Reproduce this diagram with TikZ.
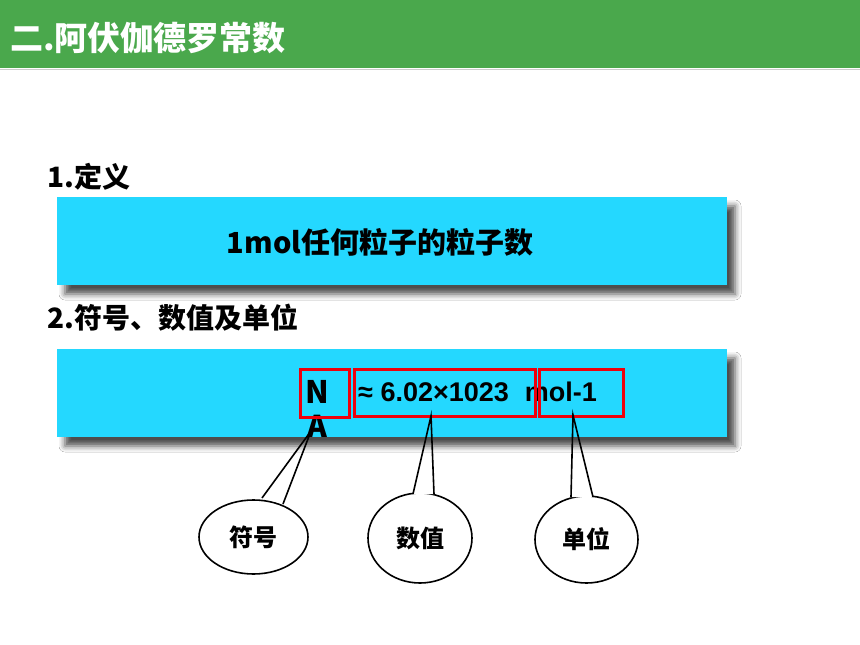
\documentclass[tikz,border=0pt]{standalone}
\usepackage{fontspec}
\setmainfont{Noto Sans CJK SC}
\newfontfamily\latinsans{Liberation Sans}
\usetikzlibrary{shapes.geometric,shadows.blur}
\definecolor{hdr}{RGB}{74,168,76}
\definecolor{cyanbox}{RGB}{36,216,255}
\definecolor{redbox}{RGB}{238,0,12}
\begin{document}
\begin{tikzpicture}[x=1pt,y=-1pt,
  cbox/.style={fill=cyanbox, minimum width=670pt, minimum height=88pt, inner sep=0pt,
     blur shadow={shadow xshift=8pt, shadow yshift=-9pt, shadow blur radius=6pt, shadow opacity=70}},
  heading/.style={anchor=west, inner sep=0pt, font=\bfseries\fontsize{28}{28}\selectfont},
  redframe/.style={draw=redbox, line width=3pt, inner sep=0pt},
  callout/.style={ellipse, draw=black, line width=1.6pt, fill=white, inner sep=0pt,
     font=\bfseries\fontsize{24}{24}\selectfont},
  tail/.style={draw=black, line width=1.6pt, line join=miter}
]
\useasboundingbox (0,0) rectangle (860,645);
\fill[white] (0,0) rectangle (860,645);
% header
\fill[hdr] (0,0) rectangle (860,67.5);
\draw[black!20, line width=1.5pt] (0,69.5) -- (860,69.5);
\node[anchor=west, inner sep=0pt, text=white, font=\bfseries\fontsize{33}{33}\selectfont] (title) at (10,38) {二.阿伏伽德罗常数};
% section 1
\node[heading] (h1) at (47,177) {1.定义};
\node[cbox] (def) at (392,241) {};
\node[inner sep=0pt, font=\bfseries\fontsize{29}{29}\selectfont] (deftext) at (380,242) {1mol任何粒子的粒子数};
% section 2
\node[heading] (h2) at (47,318) {2.符号、数值及单位};
\node[cbox] (sym) at (392,393) {};
\node[inner sep=0pt, font=\bfseries\fontsize{31}{31}\selectfont] (N) at (317,392) {N};
\node[inner sep=0pt, font=\bfseries\fontsize{30}{30}\selectfont] (A) at (317,426) {A};
\node[anchor=west, inner sep=0pt, font=\latinsans\bfseries\fontsize{27}{27}\selectfont] (val) at (358,392) {≈ 6.02×1023\hspace{16pt}mol-1};
\node[redframe, minimum width=49pt, minimum height=48pt] (rN) at (324.5,393) {};
\node[redframe, minimum width=181pt, minimum height=47pt] (rV) at (444.5,392.5) {};
\node[redframe, minimum width=84pt, minimum height=47pt] (rU) at (581,392.5) {};
% callouts
\node[callout, minimum width=109pt, minimum height=74pt] (c1) at (253.5,537) {符号};
\node[callout, minimum width=104pt, minimum height=90pt] (c2) at (420,538) {数值};
\node[callout, minimum width=103pt, minimum height=87pt] (c3) at (586.5,539.5) {单位};
\coordinate (t1) at (311,431);
\coordinate (b1a) at (262,498);
\coordinate (b1b) at (283,504);
\coordinate (t2) at (431,416);
\coordinate (b2a) at (413,494);
\coordinate (b2b) at (434,494);
\coordinate (t3) at (573,415);
\coordinate (b3a) at (571,497);
\coordinate (b3b) at (593,497);
\begin{scope}
  \clip (0,470) rectangle (860,645);
  \fill[white] (b1a) -- (t1) -- (b1b) -- cycle;
  \fill[white] (b2a) -- (t2) -- (b2b) -- cycle;
  \fill[white] (b3a) -- (t3) -- (b3b) -- cycle;
\end{scope}
\draw[tail] (b1a) -- (t1) -- (b1b);
\draw[tail] (b2a) -- (t2) -- (b2b);
\draw[tail] (b3a) -- (t3) -- (b3b);
\end{tikzpicture}
\end{document}
